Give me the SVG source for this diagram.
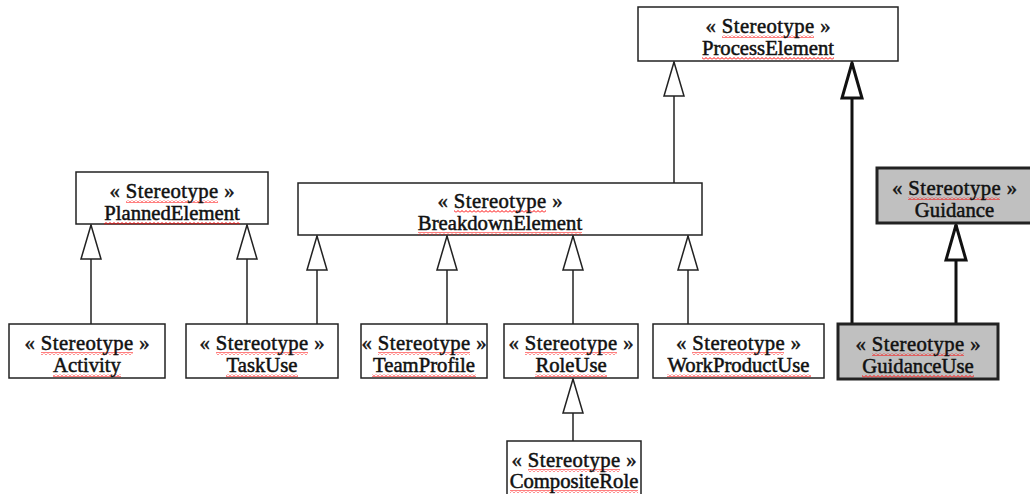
<svg xmlns="http://www.w3.org/2000/svg" width="1030" height="494" viewBox="0 0 1030 494">
<style>
.box{fill:#fff;stroke:#222;stroke-width:1.5}
.gbox{fill:#c0c0c0;stroke:#222;stroke-width:3}
.t{font-family:"Liberation Serif","Times New Roman",serif;font-size:20.7px;fill:#111;stroke:#111;stroke-width:0.5;text-anchor:middle}
.ln{stroke:#222;stroke-width:1.5;fill:none;marker-end:url(#tri)}
.lnb{stroke:#111;stroke-width:3;fill:none;marker-end:url(#trib)}
.sq{fill:url(#wavy)}
</style>
<defs>
<pattern id="wavy" patternUnits="userSpaceOnUse" width="4" height="3">
<path d="M0,2.5 L2,0.5 L4,2.5" stroke="#f00" stroke-width="1" fill="none"/>
</pattern>
<marker id="tri" markerUnits="userSpaceOnUse" viewBox="-36 -12 38 24" refX="0" refY="0" markerWidth="38" markerHeight="24" orient="auto">
<path d="M0,0 L-34,-10 L-34,10 Z" fill="#fff" stroke="#222" stroke-width="1.5"/>
</marker>
<marker id="trib" markerUnits="userSpaceOnUse" viewBox="-38 -13 41 26" refX="0" refY="0" markerWidth="41" markerHeight="26" orient="auto">
<path d="M0,0 L-35,-10 L-35,10 Z" fill="#fff" stroke="#111" stroke-width="3"/>
</marker>
</defs>
<g id="connectors">
<line class="ln" x1="674" y1="183" x2="674" y2="62"/>
<line class="lnb" x1="852" y1="324" x2="852" y2="63"/>
<line class="lnb" x1="956" y1="324" x2="956" y2="225"/>
<line class="ln" x1="91" y1="324" x2="91" y2="225"/>
<line class="ln" x1="247" y1="324" x2="247" y2="225"/>
<line class="ln" x1="317" y1="324" x2="317" y2="236"/>
<line class="ln" x1="447" y1="324" x2="447" y2="236"/>
<line class="ln" x1="573" y1="324" x2="573" y2="236"/>
<line class="ln" x1="688" y1="324" x2="688" y2="236"/>
<line class="ln" x1="573" y1="441" x2="573" y2="379"/>
</g>
<g id="ProcessElement">
<rect class="box" x="638" y="7" width="260" height="54"/>
<rect class="sq" x="722" y="35" width="92" height="3"/>
<rect class="sq" x="702" y="57" width="132" height="3"/>
<text class="t" x="768" y="33" textLength="125">« Stereotype »</text>
<text class="t" x="768" y="55">ProcessElement</text>
</g>
<g id="PlannedElement">
<rect class="box" x="76" y="172" width="192" height="52"/>
<rect class="sq" x="126" y="200" width="92" height="3"/>
<rect class="sq" x="104" y="222" width="136" height="3"/>
<text class="t" x="172" y="198" textLength="125">« Stereotype »</text>
<text class="t" x="172" y="220">PlannedElement</text>
</g>
<g id="BreakdownElement">
<rect class="box" x="298" y="183" width="404" height="52"/>
<rect class="sq" x="454" y="210" width="92" height="3"/>
<rect class="sq" x="418" y="232" width="164" height="3"/>
<text class="t" x="500" y="208" textLength="125">« Stereotype »</text>
<text class="t" x="500" y="230">BreakdownElement</text>
</g>
<g id="Activity">
<rect class="box" x="9" y="324" width="156" height="54"/>
<rect class="sq" x="41" y="352" width="92" height="3"/>
<rect class="sq" x="53" y="374" width="68" height="3"/>
<text class="t" x="87" y="350" textLength="125">« Stereotype »</text>
<text class="t" x="87" y="372">Activity</text>
</g>
<g id="TaskUse">
<rect class="box" x="186" y="324" width="152" height="54"/>
<rect class="sq" x="216" y="352" width="92" height="3"/>
<rect class="sq" x="226" y="374" width="72" height="3"/>
<text class="t" x="262" y="350" textLength="125">« Stereotype »</text>
<text class="t" x="262" y="372">TaskUse</text>
</g>
<g id="TeamProfile">
<rect class="box" x="361" y="324" width="126" height="54"/>
<rect class="sq" x="378" y="352" width="92" height="3"/>
<rect class="sq" x="372" y="374" width="104" height="3"/>
<text class="t" x="424" y="350" textLength="125">« Stereotype »</text>
<text class="t" x="424" y="372">TeamProfile</text>
</g>
<g id="RoleUse">
<rect class="box" x="504" y="324" width="134" height="54"/>
<rect class="sq" x="525" y="352" width="92" height="3"/>
<rect class="sq" x="535" y="374" width="72" height="3"/>
<text class="t" x="571" y="350" textLength="125">« Stereotype »</text>
<text class="t" x="571" y="372">RoleUse</text>
</g>
<g id="WorkProductUse">
<rect class="box" x="653" y="324" width="171" height="54"/>
<rect class="sq" x="692" y="352" width="92" height="3"/>
<rect class="sq" x="667" y="374" width="144" height="3"/>
<text class="t" x="738.5" y="350" textLength="125">« Stereotype »</text>
<text class="t" x="738.5" y="372">WorkProductUse</text>
</g>
<g id="Guidance">
<rect class="gbox" x="877" y="168" width="157" height="55"/>
<rect class="sq" x="908" y="197" width="92" height="3"/>
<text class="t" x="954.5" y="195" textLength="125">« Stereotype »</text>
<text class="t" x="954.5" y="217">Guidance</text>
</g>
<g id="GuidanceUse">
<rect class="gbox" x="838" y="324" width="160" height="55"/>
<rect class="sq" x="872" y="353" width="92" height="3"/>
<rect class="sq" x="862" y="375" width="112" height="3"/>
<text class="t" x="918" y="351" textLength="125">« Stereotype »</text>
<text class="t" x="918" y="373">GuidanceUse</text>
</g>
<g id="CompositeRole">
<rect class="box" x="507" y="441" width="134" height="60"/>
<rect class="sq" x="528" y="469" width="92" height="3"/>
<rect class="sq" x="510" y="490" width="128" height="3"/>
<text class="t" x="574" y="467" textLength="125">« Stereotype »</text>
<text class="t" x="574" y="488">CompositeRole</text>
</g>
</svg>
